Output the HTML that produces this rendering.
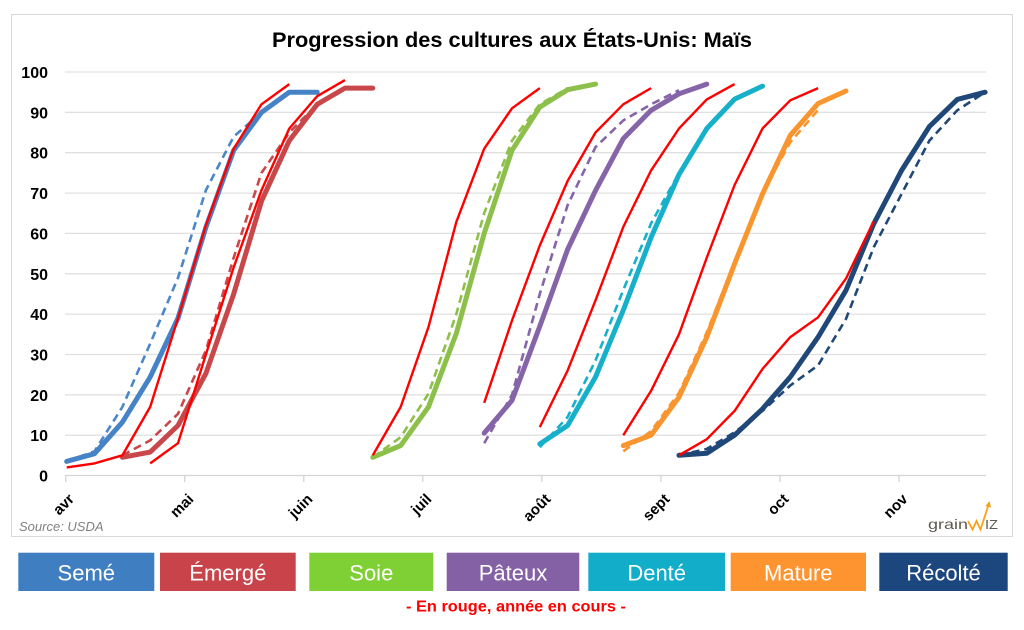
<!DOCTYPE html>
<html><head><meta charset="utf-8"><style>
html,body{margin:0;padding:0;background:#fff;}
svg{display:block;}
text{font-family:"Liberation Sans",sans-serif;}
</style></head><body>
<svg width="1024" height="630" viewBox="0 0 1024 630" xmlns="http://www.w3.org/2000/svg">
<rect x="0" y="0" width="1024" height="630" fill="#fff"/>
<rect x="11.5" y="14.5" width="1001" height="522" fill="#fff" stroke="#d9d9d9" stroke-width="1"/>
<text x="272" y="47" font-size="21" font-weight="bold" fill="#000" textLength="480" lengthAdjust="spacingAndGlyphs">Progression des cultures aux États-Unis: Maïs</text>
<g stroke="#e0e0e0" stroke-width="1.3">
<line x1="65" y1="72" x2="986" y2="72"/>
<line x1="65" y1="112.3" x2="986" y2="112.3"/>
<line x1="65" y1="152.7" x2="986" y2="152.7"/>
<line x1="65" y1="193.1" x2="986" y2="193.1"/>
<line x1="65" y1="233.4" x2="986" y2="233.4"/>
<line x1="65" y1="273.8" x2="986" y2="273.8"/>
<line x1="65" y1="314.1" x2="986" y2="314.1"/>
<line x1="65" y1="354.5" x2="986" y2="354.5"/>
<line x1="65" y1="394.8" x2="986" y2="394.8"/>
<line x1="65" y1="435.2" x2="986" y2="435.2"/>
</g>
<g stroke="#d4d4d4" stroke-width="1.3">
<line x1="65" y1="475.5" x2="986" y2="475.5"/>
<line x1="65.7" y1="475.5" x2="65.7" y2="482"/>
<line x1="184.7" y1="475.5" x2="184.7" y2="482"/>
<line x1="303.8" y1="475.5" x2="303.8" y2="482"/>
<line x1="422.8" y1="475.5" x2="422.8" y2="482"/>
<line x1="541.9" y1="475.5" x2="541.9" y2="482"/>
<line x1="660.9" y1="475.5" x2="660.9" y2="482"/>
<line x1="780" y1="475.5" x2="780" y2="482"/>
<line x1="899" y1="475.5" x2="899" y2="482"/>
</g>
<g font-size="16" font-weight="bold" fill="#000" text-anchor="end">
<text x="48" y="78">100</text>
<text x="48" y="118.3">90</text>
<text x="48" y="158.7">80</text>
<text x="48" y="199.1">70</text>
<text x="48" y="239.4">60</text>
<text x="48" y="279.8">50</text>
<text x="48" y="320.1">40</text>
<text x="48" y="360.5">30</text>
<text x="48" y="400.8">20</text>
<text x="48" y="441.2">10</text>
<text x="48" y="481.5">0</text>
</g>
<g font-size="15" font-weight="bold" fill="#000" text-anchor="end">
<text transform="translate(75,500) rotate(-45)">avr</text>
<text transform="translate(194.5,500) rotate(-45)">mai</text>
<text transform="translate(313.5,500) rotate(-45)">juin</text>
<text transform="translate(432.5,500) rotate(-45)">juil</text>
<text transform="translate(551.5,500) rotate(-45)">août</text>
<text transform="translate(670.5,500) rotate(-45)">sept</text>
<text transform="translate(789.5,500) rotate(-45)">oct</text>
<text transform="translate(908.5,500) rotate(-45)">nov</text>
</g>
<text x="19" y="531" font-size="13" font-style="italic" fill="#808080">Source: USDA</text>

<g fill="none" stroke-linejoin="round">
<g stroke-width="2.6" stroke-dasharray="8 5">
<polyline stroke="#4a86c8" points="66.7,461.4 94.5,451.3 122.4,406.9 150.2,343.6 178,277.8 205.9,190.2 233.7,136.6 261.5,112.4"/>
<polyline stroke="#c8474b" points="122.4,455.3 150.2,440.4 178,413.8 205.9,350.4 233.7,257.6 261.5,172.9 289.3,132.5 317.2,104.3"/>
<polyline stroke="#8cc04a" points="372.8,457.3 400.7,437.2 428.5,393.6 456.3,314.1 484.2,213.2 512,140.6 539.8,104.3 567.6,88.1"/>
<polyline stroke="#8664a8" points="484.2,443.2 512,394.8 539.8,293.9 567.6,205.2 595.5,147.1 623.3,120.4 651.1,104.3 679,90.2"/>
<polyline stroke="#17b0cb" points="539.8,447.3 567.6,417 595.5,360.5 623.3,289.9 651.1,223.3 679,172.9"/>
<polyline stroke="#f9952f" points="623.3,451.3 651.1,431.1 679,392.8 706.8,332.3 734.6,261.6 762.5,193 790.3,142.2 818.1,110"/>
<polyline stroke="#1f4878" points="679,455.3 706.8,448.9 734.6,432.3 762.5,410.9 790.3,385.5 818.1,365.3 846,318.9 873.8,247.1 901.6,193.9 929.4,140.6 957.3,110.3 985.1,92.2"/>
</g>
<g stroke-width="5" stroke-linecap="round">
<polyline stroke="#4583c6" points="66.7,461.4 94.5,453.7 122.4,422.2 150.2,377 178,318.1 205.9,227.3 233.7,150.3 261.5,112.4 289.3,92.2 317.2,92.2"/>
<polyline stroke="#c8474b" points="122.4,457.3 150.2,452.1 178,425.5 205.9,373.4 233.7,293.9 261.5,201.1 289.3,140.6 317.2,104.3 345,88.1 372.8,88.1"/>
<polyline stroke="#8cc04a" points="372.8,457.3 400.7,445.6 428.5,406.9 456.3,333.5 484.2,233.4 512,150.3 539.8,107.1 567.6,89.7 595.5,84.1"/>
<polyline stroke="#8664a8" points="484.2,433.1 512,400.4 539.8,326.2 567.6,249.5 595.5,190.6 623.3,138.6 651.1,110.3 679,93.8 706.8,84.1"/>
<polyline stroke="#17b0cb" points="539.8,444 567.6,425.5 595.5,377 623.3,310.1 651.1,237.4 679,174.5 706.8,128.5 734.6,99.1 762.5,86.1"/>
<polyline stroke="#f9952f" points="623.3,445.6 651.1,435.2 679,397.2 706.8,337.1 734.6,263.7 762.5,193.9 790.3,135.3 818.1,103.5 846,91"/>
<polyline stroke="#1f4878" points="679,455.3 706.8,453.3 734.6,435.2 762.5,408.9 790.3,377 818.1,337.1 846,290.3 873.8,223.7 901.6,170.4 929.4,126.5 957.3,99.4 985.1,92.2"/>
</g>
<g stroke="#ff0000" stroke-width="2.4">
<polyline points="66.7,467.4 94.5,463.4 122.4,455.3 150.2,406.9 178,318.1 205.9,225.3 233.7,148.7 261.5,104.3 289.3,84.1"/>
<polyline points="150.2,463.4 178,443.2 205.9,354.5 233.7,267.3 261.5,190.2 289.3,128.5 317.2,96.2 345,80.1"/>
<polyline points="372.8,455.3 400.7,406.9 428.5,327 456.3,222.1 484.2,148.7 512,108.3 539.8,88.1"/>
<polyline points="484.2,402.9 512,320.5 539.8,245.5 567.6,181 595.5,132.5 623.3,104.3 651.1,88.1"/>
<polyline points="539.8,427.1 567.6,370.6 595.5,300.4 623.3,226.9 651.1,170.4 679,128.5 706.8,99.4 734.6,84.1"/>
<polyline points="623.3,435.2 651.1,390.8 679,334.3 706.8,257.6 734.6,185 762.5,128.5 790.3,100.3 818.1,88.1"/>
<polyline points="679,455.3 706.8,439.2 734.6,410.9 762.5,369 790.3,337.1 818.1,317.3 846,278.6 873.8,221.3"/>
</g>
</g>

<text x="928" y="529" font-size="14" fill="#5f5a50" textLength="40" lengthAdjust="spacingAndGlyphs">grain</text>
<polyline points="968,521 972.5,529.5 976.5,521 980.5,529.5 988.5,505" fill="none" stroke="#f7a21b" stroke-width="1.8" stroke-linejoin="miter"/>
<polygon points="985.5,506 989.5,501 991,507.5" fill="#f7a21b"/>
<text x="985" y="529" font-size="13" fill="#5f5a50" textLength="13" lengthAdjust="spacingAndGlyphs">IZ</text>

<rect x="18.3" y="552.7" width="136" height="38.3" fill="#3f7fc1"/>
<rect x="160" y="552.7" width="135.7" height="38.3" fill="#c9444a"/>
<rect x="309.3" y="552.7" width="124" height="38.3" fill="#7fd034"/>
<rect x="446.7" y="552.7" width="132.6" height="38.3" fill="#8460a4"/>
<rect x="588.3" y="552.7" width="136.7" height="38.3" fill="#12adc9"/>
<rect x="730.7" y="552.7" width="135.3" height="38.3" fill="#fd9430"/>
<rect x="879.3" y="552.7" width="128.4" height="38.3" fill="#1b467e"/>
<g font-size="22" fill="#fff" text-anchor="middle">
<text x="86.3" y="580.5">Semé</text>
<text x="227.8" y="580.5">Émergé</text>
<text x="371.3" y="580.5">Soie</text>
<text x="513" y="580.5">Pâteux</text>
<text x="656.7" y="580.5">Denté</text>
<text x="798.3" y="580.5">Mature</text>
<text x="943.5" y="580.5">Récolté</text>
</g>
<text x="406" y="611.7" font-size="16" font-weight="bold" fill="#ff0000" textLength="220" lengthAdjust="spacingAndGlyphs">- En rouge, année en cours -</text>
</svg>
</body></html>
